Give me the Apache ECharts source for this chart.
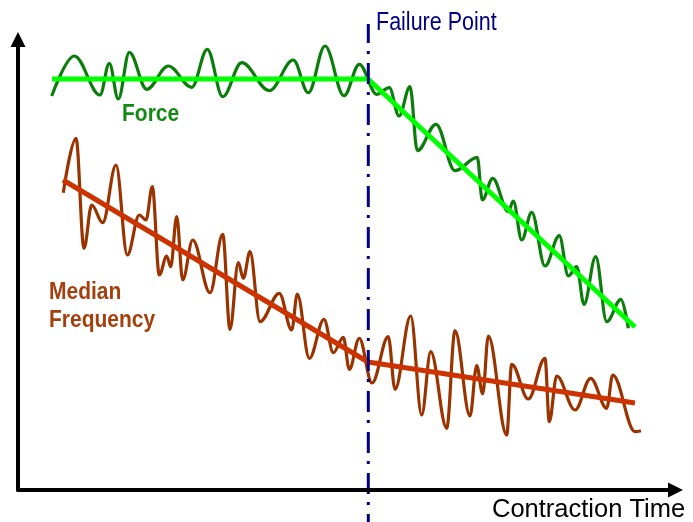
<!DOCTYPE html>
<html>
<head>
<meta charset="utf-8">
<script src="https://cdn.jsdelivr.net/npm/echarts@6/dist/echarts.min.js"></script>
<style>
  html, body { margin: 0; padding: 0; background: #ffffff; }
  #chart { width: 693px; height: 522px; }
</style>
</head>
<body>
<div id="chart"></div>
<script>
// Muscle fatigue sketch: force and median frequency over contraction time.
// Time runs 0..657.5 along the horizontal axis, level 0..450.5 up the vertical one.

// Force signal, given as its successive peaks and troughs [time, level]
const forceSignal = [
  [33.7, 394], [56.3, 434], [82, 395], [91.3, 426.7], [100.3, 391], [111.3, 437.7],
  [128.7, 400.7], [150.3, 424], [173.7, 402.7], [189.3, 440.7], [204.7, 393.3],
  [223.7, 427.3], [251.3, 399.3], [275.3, 430], [290.3, 397.3], [307, 444],
  [326, 394.3], [341.3, 425.7], [358.7, 395.7], [371.3, 402.3], [381, 374],
  [392, 403.3], [399.3, 339.3], [418, 365.7], [437, 319.3], [459.3, 332.7],
  [464.3, 290], [474.7, 311.7], [490.3, 278.3], [495.3, 289], [503.7, 250],
  [513.7, 277.7], [527, 224], [541.3, 254.3], [550.3, 214], [558.7, 223.3],
  [566, 185.7], [577.7, 233.3], [588.7, 168.3], [603, 190.7], [610.3, 161.7]
];
// Force trend: steady until failure, then falling
const forceTrend = [[34, 411], [350, 411], [617, 163]];

// Median frequency signal, peaks and troughs [time, level]
const medianSignal = [
  [45.3, 297.3], [58, 351.7], [66, 241.7], [73.7, 285], [84.7, 267.3], [98, 325],
  [109.3, 235], [121.3, 275], [128, 270], [134.3, 303.3], [141.3, 215], [148.7, 234],
  [152.7, 223.3], [158.7, 273.3], [164.7, 210], [174.7, 250], [192, 197.3],
  [204.7, 255.7], [212, 160.7], [220.3, 227.3], [225.3, 211.7], [232, 238.3],
  [242, 168.3], [261.3, 196.7], [273.7, 160], [279.3, 196], [291.3, 131.7],
  [306, 170.7], [315.3, 137.3], [325.3, 152.7], [331.3, 120.7], [341.3, 151.7],
  [354, 107], [370.3, 153.3], [377, 100.7], [392.7, 174], [403.7, 75],
  [412.7, 138.3], [428.7, 61.7], [437, 159.3], [452, 74], [458.7, 124.3],
  [464.7, 96], [470.3, 154], [488.7, 55], [493.7, 125.7], [510.3, 91],
  [527, 131.7], [531.3, 68.3], [538.7, 114], [557, 80], [572.7, 111.7],
  [588.7, 81.7], [594.7, 115], [617, 58.3], [623, 59.3]
];
// Median frequency trend: steep decline, then a slow one after failure
const medianTrend = [[45, 310], [350, 128], [617, 87]];

// Failure point marker: time and the level span it is drawn across
const failureTime = 350.3;
const failureSpan = [466, -32];

// Text
const timeAxisName = 'Contraction Time';
const failureName = 'Failure Point';
const forceName = 'Force';
const medianNameLines = ['Median', 'Frequency'];

const chart = echarts.init(document.getElementById('chart'), null, { renderer: 'canvas' });

const axisCommon = {
  type: 'value',
  axisTick: { show: false },
  axisLabel: { show: false },
  splitLine: { show: false },
  axisLine: {
    show: true,
    symbol: ['none', 'triangle'],
    symbolSize: [15, 15],
    lineStyle: { color: '#000000', width: 4 }
  }
};

function text(content, x, y, font, fill, sy) {
  return {
    type: 'text',
    x: x, y: y,
    scaleY: sy,
    z: 20,
    style: { text: content, font: font, fill: fill, verticalAlign: 'middle', align: 'left' }
  };
}

// signals: smooth curves with level tangents at every peak and trough
function signal(data, color) {
  return {
    type: 'line', data: data, smooth: 0.36, smoothMonotone: 'x',
    symbol: 'none', lineStyle: { color: color, width: 3.2 }, z: 2
  };
}

chart.setOption({
  animation: false,
  backgroundColor: '#ffffff',
  grid: { left: 18, right: 17.5, top: 39.5, bottom: 32, containLabel: false },
  xAxis: Object.assign({}, axisCommon, { min: 0, max: 657.5, z: 5 }),
  yAxis: Object.assign({}, axisCommon, { min: 0, max: 450.5 }),
  series: [
    signal(forceSignal, '#0a7d0a'),
    signal(medianSignal, '#993300'),
    {
      type: 'line', data: forceTrend, symbol: 'none',
      lineStyle: { color: '#00ff00', width: 5 }, z: 3
    },
    {
      type: 'line', data: medianTrend, symbol: 'none',
      lineStyle: { color: '#cc3300', width: 5 }, z: 3
    },
    {
      type: 'line', clip: false, symbol: 'none', z: 4,
      data: [[failureTime, failureSpan[0]], [failureTime, failureSpan[1]]],
      lineStyle: { color: '#000080', width: 3, type: [21, 8, 3, 9], dashOffset: 2 }
    }
  ],
  graphic: [
    text(forceName, 122, 114, 'bold 21px "Liberation Sans", Arial, sans-serif', '#138a13', 1.18),
    text(medianNameLines[0], 49, 292.5, 'bold 21px "Liberation Sans", Arial, sans-serif', '#a3400d', 1.18),
    text(medianNameLines[1], 49, 320, 'bold 21px "Liberation Sans", Arial, sans-serif', '#a3400d', 1.18),
    text(failureName, 376, 23, '21.5px "Liberation Sans", Arial, sans-serif', '#000080', 1.18),
    text(timeAxisName, 492, 509.5, '25.5px "Liberation Sans", Arial, sans-serif', '#000000', 1.04)
  ]
});
</script>
</body>
</html>
